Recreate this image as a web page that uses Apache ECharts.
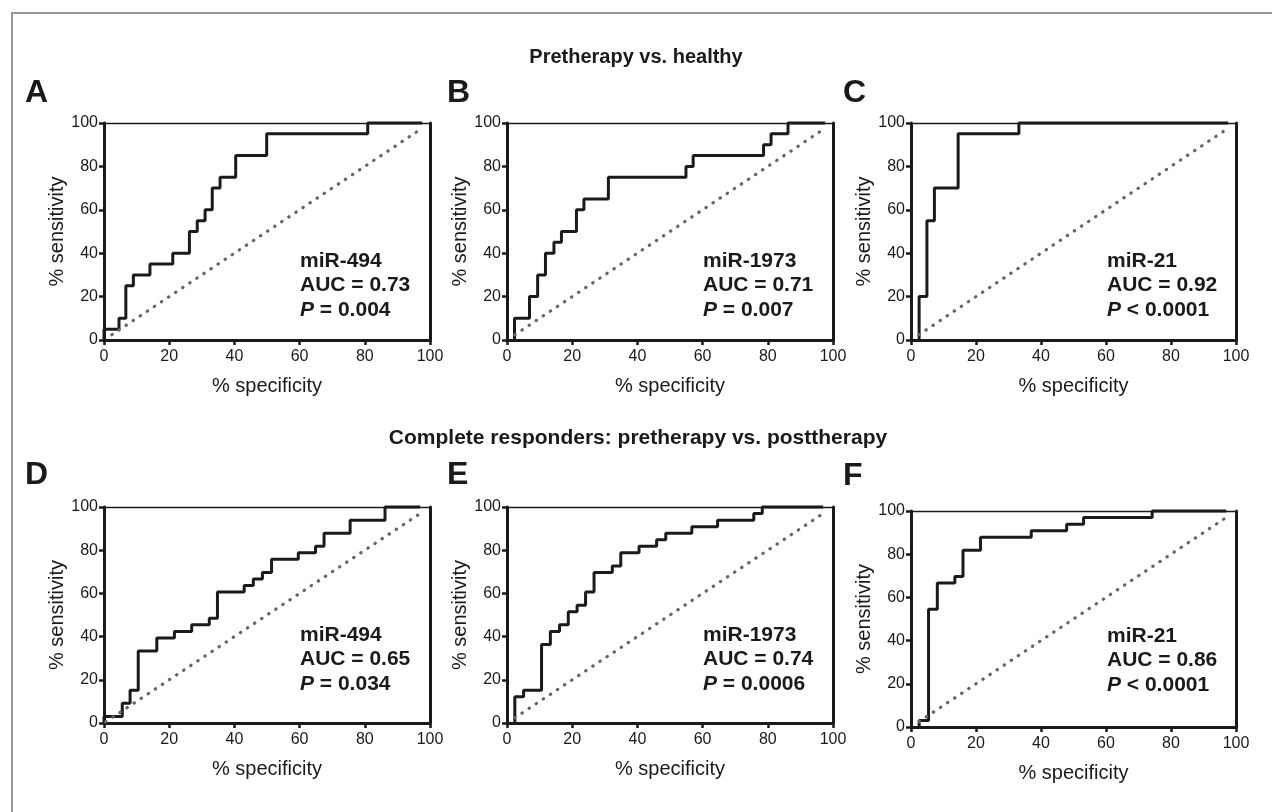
<!DOCTYPE html>
<html>
<head>
<meta charset="utf-8">
<script src="https://cdn.jsdelivr.net/npm/echarts@6/dist/echarts.min.js"></script>
<style>
  html, body { margin: 0; padding: 0; background: #fff; }
  #main { width: 1272px; height: 812px; }
</style>
</head>
<body>
<div id="main"></div>
<script>
// ROC curves: x = "% specificity" axis, y = % sensitivity
// each point is the corner after a vertical jump (drawn with step: 'end')
const specA = [0, 0, 4.6, 6.7, 9.0, 14.1, 21.1, 26.2, 28.6, 31.0, 33.2, 35.6, 40.4, 49.9, 80.9, 97.6];
const sensA = [0, 5, 10, 25, 30, 35, 40, 50, 55, 60, 70, 75, 85, 95, 100, 100];

const specB = [2.3, 2.3, 6.9, 9.4, 11.8, 14.4, 16.7, 21.3, 23.6, 31.1, 54.9, 57.1, 78.7, 81.0, 86.2, 97.6];
const sensB = [0, 10, 20, 30, 40, 45, 50, 60, 65, 75, 80, 85, 90, 95, 100, 100];

const specC = [2.5, 2.5, 4.9, 7.2, 14.5, 33.2, 97.6];
const sensC = [0, 20, 55, 70, 95, 100, 100];

const specD = [0, 0, 5.6, 8.0, 10.5, 16.2, 21.6, 26.9, 32.3, 34.8, 43.0, 45.8, 48.6, 51.4, 59.6, 64.9, 67.5, 75.5, 86.2, 97.0];
const sensD = [0, 3.0, 9.1, 15.2, 33.3, 39.4, 42.4, 45.5, 48.5, 60.6, 63.6, 66.7, 69.7, 75.8, 78.8, 81.8, 87.9, 93.9, 100, 100];

const specE = [2.4, 2.4, 5.1, 10.6, 13.3, 16.1, 18.8, 21.5, 24.1, 26.7, 32.3, 34.9, 40.5, 45.9, 48.7, 56.7, 64.6, 75.7, 78.3, 97.0];
const sensE = [0, 12.1, 15.2, 36.4, 42.4, 45.5, 51.5, 54.5, 60.6, 69.7, 72.7, 78.8, 81.8, 84.8, 87.9, 90.9, 93.9, 97.0, 100, 100];

const specF = [2.5, 2.5, 5.4, 8.1, 13.5, 16.0, 21.4, 37.0, 47.9, 53.1, 74.2, 97.0];
const sensF = [0, 3.0, 54.5, 66.7, 69.7, 81.8, 87.9, 90.9, 93.9, 97.0, 100, 100];

// chance line (start, end) per panel
const diagA = [2.4, 97.6], diagB = [2.4, 97.6], diagC = [2.4, 97.6];
const diagD = [0.5, 97.0], diagE = [2.4, 97.0], diagF = [2.5, 97.0];

const panelLetters = ['A', 'B', 'C', 'D', 'E', 'F'];
const mirNames = ['miR-494', 'miR-1973', 'miR-21', 'miR-494', 'miR-1973', 'miR-21'];
const aucValues = ['0.73', '0.71', '0.92', '0.65', '0.74', '0.86'];
const pValues = ['= 0.004', '= 0.007', '< 0.0001', '= 0.034', '= 0.0006', '< 0.0001'];
const rowTitles = ['Pretherapy vs. healthy', 'Complete responders: pretherapy vs. posttherapy'];

const FONT = '"Liberation Sans", Arial, Helvetica, sans-serif';
const INK = '#1a1a1a';

const curves = [
    [specA, sensA, diagA], [specB, sensB, diagB], [specC, sensC, diagC],
    [specD, sensD, diagD], [specE, sensE, diagE], [specF, sensF, diagF]
];

// plot boxes
const boxes = [
    { left: 104, top: 123, width: 326, height: 217 },
    { left: 507, top: 123, width: 326, height: 217 },
    { left: 911, top: 123, width: 325, height: 217 },
    { left: 104, top: 507, width: 326, height: 216 },
    { left: 507, top: 507, width: 326, height: 216 },
    { left: 911, top: 511, width: 325, height: 216 }
];
const annotTop = [261, 261, 261, 635, 635, 636];
const letterPos = [[25, 93], [447, 93], [843, 93], [25, 475], [447, 475], [843, 476]];

var myChart = echarts.init(document.getElementById('main'));

var grid = [], xAxis = [], yAxis = [], series = [], graphic = [];

boxes.forEach(function (b, i) {
    grid.push(b);

    xAxis.push({
        gridIndex: i, type: 'value', min: 0, max: 100, interval: 20,
        name: '% specificity', nameLocation: 'middle', nameGap: 36,
        nameTextStyle: { fontSize: 20, color: INK, fontFamily: FONT },
        axisLine: { show: true, onZero: false, lineStyle: { color: INK, width: 3 } },
        axisTick: { show: true, length: 5, lineStyle: { color: INK, width: 2.5 } },
        axisLabel: { fontSize: 16, color: INK, fontFamily: FONT, margin: 9 },
        splitLine: { show: false }
    });
    xAxis.push({
        gridIndex: i, type: 'value', min: 0, max: 100, position: 'top',
        axisLine: { show: true, onZero: false, lineStyle: { color: INK, width: 1.3 } },
        axisTick: { show: false }, axisLabel: { show: false }, splitLine: { show: false }
    });
    yAxis.push({
        gridIndex: i, type: 'value', min: 0, max: 100, interval: 20,
        name: '% sensitivity', nameLocation: 'middle', nameGap: 37,
        nameTextStyle: { fontSize: 20, color: INK, fontFamily: FONT },
        axisLine: { show: true, onZero: false, lineStyle: { color: INK, width: 3 } },
        axisTick: { show: true, length: 5, lineStyle: { color: INK, width: 2.5 } },
        axisLabel: { fontSize: 16, color: INK, fontFamily: FONT, margin: 6 },
        splitLine: { show: false }
    });
    yAxis.push({
        gridIndex: i, type: 'value', min: 0, max: 100, position: 'right',
        axisLine: { show: true, onZero: false, lineStyle: { color: INK, width: 3 } },
        axisTick: { show: false }, axisLabel: { show: false }, splitLine: { show: false }
    });

    var c = curves[i];
    series.push({
        type: 'line', xAxisIndex: 2 * i, yAxisIndex: 2 * i,
        data: c[0].map(function (x, k) { return [x, c[1][k]]; }),
        step: 'end', symbol: 'none', clip: false,
        lineStyle: { color: INK, width: 3 }
    });
    series.push({
        type: 'line', xAxisIndex: 2 * i, yAxisIndex: 2 * i,
        data: [[c[2][0], c[2][0]], [c[2][1], c[2][1]]],
        symbol: 'none', clip: false,
        lineStyle: { color: '#666', width: 3.2, type: [0.5, 8], cap: 'round' }
    });

    // panel letter
    graphic.push({
        type: 'text', x: letterPos[i][0], y: letterPos[i][1],
        style: { text: panelLetters[i], font: 'bold 32px ' + FONT, fill: INK,
                 textAlign: 'left', textVerticalAlign: 'middle' }
    });

    // annotation block
    var ax = b.left + 196;
    var lines = [mirNames[i], 'AUC = ' + aucValues[i]];
    lines.forEach(function (t, k) {
        graphic.push({
            type: 'text', x: ax, y: annotTop[i] + k * 24.5,
            style: { text: t, font: 'bold 21px ' + FONT, fill: INK,
                     textAlign: 'left', textVerticalAlign: 'middle' }
        });
    });
    graphic.push({
        type: 'text', x: ax, y: annotTop[i] + 2 * 24.5,
        style: {
            text: '{i|P}{n| ' + pValues[i] + '}', fill: INK,
            font: 'bold 21px ' + FONT,
            textAlign: 'left', textVerticalAlign: 'middle',
            rich: {
                i: { fontStyle: 'italic', fontWeight: 'bold', fontSize: 21, fontFamily: FONT, fill: INK },
                n: { fontWeight: 'bold', fontSize: 21, fontFamily: FONT, fill: INK }
            }
        }
    });
});

// row titles
graphic.push({
    type: 'text', x: 636, y: 57,
    style: { text: rowTitles[0], font: 'bold 20px ' + FONT, fill: INK,
             textAlign: 'center', textVerticalAlign: 'middle' }
});
graphic.push({
    type: 'text', x: 638, y: 438,
    style: { text: rowTitles[1], font: 'bold 21px ' + FONT, fill: INK,
             textAlign: 'center', textVerticalAlign: 'middle' }
});

// grey frame (top and left edges of the figure box)
graphic.push({
    type: 'polyline', shape: { points: [[12, 812], [12, 13], [1272, 13]] },
    style: { stroke: '#999', lineWidth: 2, fill: null }
});

var option = {
    animation: false,
    backgroundColor: '#fff',
    grid: grid,
    xAxis: xAxis,
    yAxis: yAxis,
    series: series,
    graphic: graphic
};

option && myChart.setOption(option);
</script>
</body>
</html>
